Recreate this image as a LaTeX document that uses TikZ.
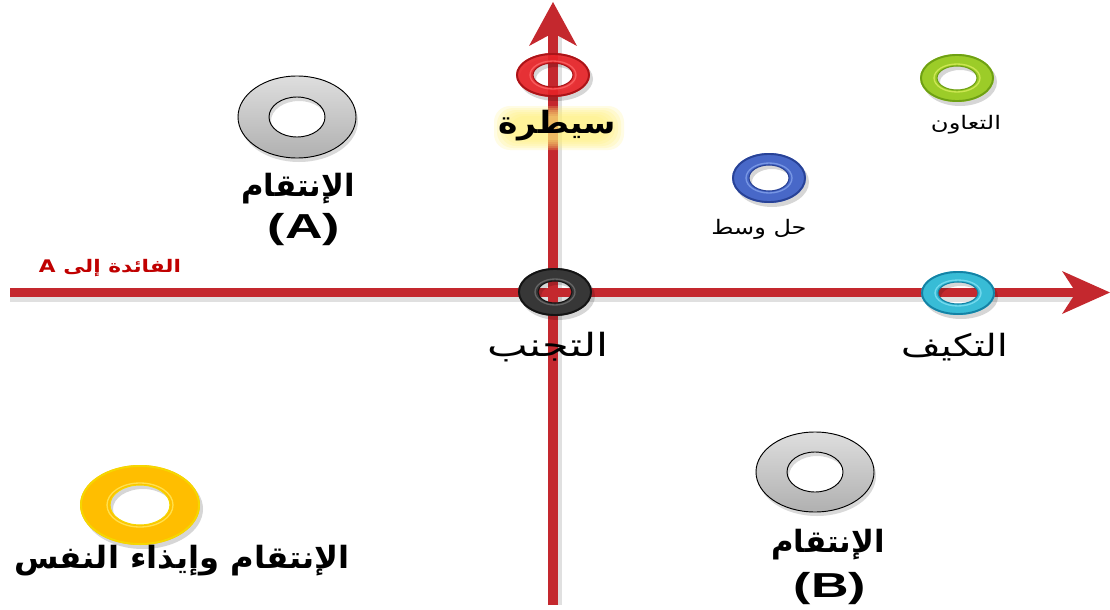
\documentclass[tikz,border=0pt]{standalone}
\usepackage{fontspec}
\newfontfamily\arabicfont[Script=Arabic]{DejaVu Sans}
\newfontfamily\latinbold{Liberation Sans}
\TeXXeTstate=1
\definecolor{axisred}{RGB}{196,40,46}
\definecolor{labelred}{RGB}{192,0,0}
\definecolor{ringred}{RGB}{232,36,40}
\definecolor{ringredE}{RGB}{170,20,24}
\definecolor{ringredL}{RGB}{255,110,110}
\definecolor{ringgray}{RGB}{200,200,200}
\definecolor{ringgrayL}{RGB}{222,222,222}
\definecolor{ringblue}{RGB}{72,104,200}
\definecolor{ringblueE}{RGB}{40,66,150}
\definecolor{ringblueL}{RGB}{140,170,240}
\definecolor{ringgreen}{RGB}{156,204,40}
\definecolor{ringgreenE}{RGB}{110,160,20}
\definecolor{ringgreenL}{RGB}{225,242,100}
\definecolor{ringblack}{RGB}{55,55,55}
\definecolor{ringblackE}{RGB}{20,20,20}
\definecolor{ringblackL}{RGB}{120,120,120}
\definecolor{ringcyan}{RGB}{56,188,214}
\definecolor{ringcyanE}{RGB}{20,130,165}
\definecolor{ringcyanL}{RGB}{140,230,248}
\definecolor{ringyellow}{RGB}{255,190,0}
\definecolor{ringyellowE}{RGB}{245,215,0}
\definecolor{ringyellowL}{RGB}{255,240,110}
\definecolor{glow}{RGB}{255,240,120}

% glossy ring: centre, outer radii, inner radii, body, edge, highlight
\newcommand\glossring[8]{%
  \fill[black,opacity=.16,even odd rule,shift={(3,4)}]
    #1 ellipse [x radius=#2,y radius=#3] #1 ellipse [x radius=#4,y radius=#5];
  \fill[#6,even odd rule]
    #1 ellipse [x radius=#2,y radius=#3] #1 ellipse [x radius=#4,y radius=#5];
  \draw[#7,line width=1.4pt] #1 ellipse [x radius=#2-1,y radius=#3-1];
  \draw[#8,line width=1pt,opacity=.7] #1 ellipse [x radius=#4+3,y radius=#5+2];
  \draw[#7,line width=.8pt] #1 ellipse [x radius=#4,y radius=#5];
}
% grey ring with dark outline
\newcommand\grayring[5]{%
  \fill[black,opacity=.15,even odd rule,shift={(2,4)}]
    #1 ellipse [x radius=#2,y radius=#3] #1 ellipse [x radius=#4,y radius=#5];
  \path[even odd rule,top color=ringgrayL,bottom color=ringgray!88!black]
    #1 ellipse [x radius=#2,y radius=#3] #1 ellipse [x radius=#4,y radius=#5];
  \draw[black,line width=.7pt] #1 ellipse [x radius=#2,y radius=#3];
  \draw[black,line width=.7pt] #1 ellipse [x radius=#4,y radius=#5];
}
% horizontally widened text
\newcommand\widen[2]{\scalebox{#1}[1]{#2}}

\tikzset{
  axisline/.style={draw=axisred,line width=7pt},
  axisshadow/.style={draw=black,opacity=.12,line width=7pt},
  tip/.style={fill=axisred},
  boldlbl/.style={font=\arabicfont\bfseries\fontsize{23}{27}\selectfont,inner sep=0pt},
  biglbl/.style={font=\arabicfont\fontsize{23}{27}\selectfont,inner sep=0pt},
  smalllbl/.style={font=\arabicfont\fontsize{14}{17}\selectfont,inner sep=0pt},
  letterlbl/.style={font=\latinbold\bfseries\fontsize{26}{30}\selectfont,inner sep=0pt},
}

\begin{document}
\begin{tikzpicture}[x=0.75pt,y=-0.75pt]
\useasboundingbox[fill=white] (0,0) rectangle (1110,610);

% axes
\coordinate (xs) at (10,292.5);
\coordinate (xe) at (1080,292.5);
\coordinate (ys) at (553,605);
\coordinate (ye) at (553,30);
\draw[axisshadow] ([shift={(0,5)}]xs) -- ([shift={(0,5)}]xe);
\draw[axisshadow] ([shift={(4,0)}]ys) -- ([shift={(4,0)}]ye);
\draw[axisline] (xs) -- (xe);
\draw[axisline] (ys) -- (ye);
\fill[tip] (1110,292.5) -- (1062,271) -- (1076,292.5) -- (1062,314) -- cycle;
\fill[tip] (553,2) -- (529,46) -- (553,33) -- (577,46) -- cycle;

% rings
\glossring{(553,75)}{37}{22}{20}{12}{ringred,opacity=.92}{ringredE}{ringredL}
\grayring{(297,117)}{59}{41}{28}{20}
\glossring{(769,178)}{37}{25}{20}{13}{ringblue}{ringblueE}{ringblueL}
\glossring{(957,78)}{37}{24}{20}{12}{ringgreen}{ringgreenE}{ringgreenL}
\glossring{(555,292)}{37}{24}{17}{11}{ringblack}{ringblackE}{ringblackL}
\glossring{(958,293)}{37}{22}{20}{11}{ringcyan}{ringcyanE}{ringcyanL}
\glossring{(140,505)}{60}{40}{30}{20}{ringyellow}{ringyellowE}{ringyellowL}
\grayring{(815,472)}{59}{40}{28}{20}

% glow behind the top label
\foreach \i in {0,...,5}
  \fill[glow,opacity=.2,rounded corners=12] (494+3*\i,106+2*\i) rectangle (624-3*\i,150-2*\i);

% labels
\node[boldlbl] (dom) at (557,126) {\widen{1.07}{\beginR سيطرة\endR}};
\node[boldlbl] (revA) at (298,189) {\beginR الإنتقام\endR};
\node[letterlbl] (A) at (304,230) {\widen{1.5}{(A)}};
\node[smalllbl,font=\arabicfont\fontsize{15}{18}\selectfont] (comp) at (759,229) {\widen{1.2}{\beginR حل وسط\endR}};
\node[smalllbl] (coop) at (966,125) {\widen{1.3}{\beginR التعاون\endR}};
\node[smalllbl,font=\arabicfont\bfseries\fontsize{13}{16}\selectfont,text=labelred] (gain) at (110,268) {\widen{1.25}{\beginR الفائدة إلى A\endR}};
\node[biglbl,font=\arabicfont\fontsize{24}{28}\selectfont] (avoid) at (548,347) {\widen{1.35}{\beginR التجنب\endR}};
\node[biglbl] (accom) at (955,347) {\widen{1.25}{\beginR التكيف\endR}};
\node[boldlbl] (self) at (182,561) {\widen{1.05}{\beginR الإنتقام وإيذاء النفس\endR}};
\node[boldlbl] (revB) at (828,545) {\beginR الإنتقام\endR};
\node[letterlbl] (B) at (830,589) {\widen{1.5}{(B)}};
\end{tikzpicture}
\end{document}
